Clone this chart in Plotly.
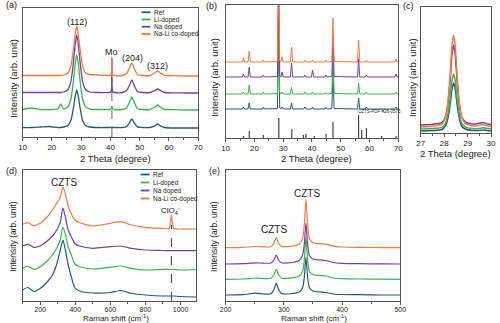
import plotly.graph_objects as go

W, H = 500, 323
names = ["Ref", "Li-doped", "Na doped", "Na-Li co-doped"]
colors = ["#26587a", "#3cb44a", "#7040a6", "#f4793e"]

# ---------------- (a) XRD films ----------------
a_x = [10, 13, 16, 19, 22, 23, 24, 25.5, 26.5, 27.3, 28.0, 28.5, 29.0, 29.7, 30.5, 31.5, 33, 36,
       39.5, 40.2, 40.5, 40.8, 41.5, 44, 45.5, 46.5, 47.3, 48.1, 49.2, 51, 53.5, 55, 56.1, 57.2, 58.5, 62, 66, 70]
a_ref = [9.5, 9.5, 10, 10.5, 9.5, 9.5, 10, 11.5, 16.5, 28, 41, 47, 41, 28, 16.5, 11.5, 10, 9.5,
         9.5, 9.5, 10, 9.5, 9.5, 9.5, 10.4, 14.4, 18, 14.4, 10.1, 9.5, 9.5, 10.8, 13, 10.8, 9.5, 9, 9, 9]
a_li = [27.5, 29, 27.5, 27.5, 28, 33, 28, 30.3, 38, 54.5, 73.8, 82, 73.8, 54.5, 38, 30.3, 27.8, 27.5,
        27.5, 28, 30.5, 28, 27.5, 27.5, 29, 35, 40, 35, 28.6, 27.5, 27.5, 29.5, 32, 29.5, 27.5, 27.3, 27, 27]
a_na = [44.5, 44.5, 44.5, 44.5, 44.5, 44.5, 45, 47.5, 55.6, 73, 93.3, 102, 93.3, 73, 55.6, 47.5, 45, 44.5,
        44.5, 45, 79, 45, 44.5, 44.5, 46.4, 51.8, 57, 51.8, 45.6, 44.5, 44.5, 46.3, 48, 46.3, 44.5, 44.2, 44, 44]
a_nali = [61.5, 61.5, 61.5, 61.5, 61.5, 61.5, 62, 64, 71, 86, 103.5, 111, 103.5, 86, 71, 64, 62.5, 62,
          61.5, 62, 79, 62, 61.5, 61.5, 63.4, 68.8, 74, 68.8, 62.6, 61.5, 61.5, 63.8, 66, 63.8, 61.5, 61.3, 61, 61]
a_peak_labels = ["(112)", "Mo", "(204)", "(312)"]
a_peak_x = [28.5, 40.5, 47.7, 56.0]
a_peak_y = [115, 85, 79, 71]
mo_pos = 40.5
mo_line_top = 60

# ---------------- (b) XRD powders ----------------
b_x = [10, 15.8, 16.2, 16.6, 17.8, 18.2, 18.6, 22.7, 23.1, 23.5, 28.0, 28.4, 28.8, 29.2, 29.6, 30.0,
       32.5, 32.9, 33.3, 37.1, 37.5, 37.9, 39.8, 40.2, 40.6, 44.5, 44.9, 45.3, 46.9, 47.3, 47.7,
       55.8, 56.2, 56.6, 58.5, 58.9, 59.3, 68.8, 69.2, 69.6, 70]
b_ref = [29, 29, 31, 29, 29, 35, 29, 29, 31, 29, 29.5, 99, 30, 29, 31, 29, 29, 35, 29, 29, 31, 29, 29, 31, 29,
         29, 30.5, 29, 29.5, 64, 29.5, 29, 40, 29, 29, 31, 29, 29, 31, 29, 29]
b_li = [44, 44, 46, 44, 44, 53, 44, 44, 46, 44, 44.5, 124, 45, 44, 46, 44, 44, 51, 44, 44, 46, 44, 44, 46, 44,
        44, 45.5, 44, 44.5, 82, 44.5, 44, 55, 44, 44, 46, 44, 44, 46, 44, 44]
b_na = [61, 61, 64, 61, 61, 71, 61, 61, 63, 61, 61.5, 161, 62, 61, 66, 61, 61, 75, 61, 61, 63, 61, 61, 68, 61,
        61, 63, 61, 61.5, 103, 61.5, 61, 79, 61, 61, 63, 61, 61, 64, 61, 61]
b_nali = [76, 76, 80, 76, 76, 87, 76, 76, 78, 76, 76.5, 186, 77, 76, 81, 76, 76, 91, 76, 76, 78, 76, 76, 78, 76,
          76, 78, 76, 76.5, 120, 76.5, 76, 98, 76, 76, 78, 76, 76, 79, 76, 76]
pdf_pos = [16.2, 18.2, 23.1, 28.5, 33.0, 37.0, 37.9, 40.8, 44.9, 47.3, 56.2, 57.3, 58.9, 64.2, 69.2]
pdf_h = [2, 7, 3, 20, 9, 3, 4, 2, 4, 16, 23, 8, 10, 2, 2]
pdf_label = "CZTS-PDF #26-0575"

# ---------------- (c) zoom of (112) ----------------
c_x = [27, 27.5, 27.9, 28.05, 28.15, 28.25, 28.33, 28.4, 28.47, 28.55, 28.65, 28.75, 28.9, 29.2, 29.45, 29.65, 29.85, 30]
c_ref = [2, 2.5, 3.5, 6.8, 14, 28.4, 44, 50, 44, 28.4, 14, 6.8, 4, 2.5, 2.5, 3, 2.5, 2]
c_li = [4, 4.5, 5.7, 9.5, 17.8, 34.3, 52.4, 59, 52.4, 34.3, 17.8, 9.5, 6.2, 4.5, 4.5, 5.2, 4.5, 4]
c_na = [8, 8.8, 10.4, 16, 28, 52, 78.4, 88, 78.4, 52, 28, 16, 11.2, 9, 9.5, 10.5, 9, 8.5]
c_nali = [6, 6.9, 8.8, 15.2, 29, 57, 87, 98, 87, 57, 29, 15.2, 9.7, 7, 7.5, 8.5, 7, 6.5]

# ---------------- (d) Raman wide ----------------
d_x = [100, 130, 165, 200, 240, 270, 295, 315, 330, 345, 360, 378, 398, 425, 500, 600, 660, 720, 800, 900,
       935, 948, 961, 1000, 1090]
d_ref = [11, 13.5, 9.5, 12.5, 19, 26, 37, 51, 61, 50, 36, 24, 13, 10, 8, 8.5, 10.5, 7.5, 6, 5, 5, 5, 5, 4.5, 4]
d_li = [32.7, 35, 31.7, 34.3, 40, 46, 53, 61, 74, 66, 54, 46, 37, 34.3, 32, 33.7, 35, 32.7, 31, 31.7,
        31.5, 31.5, 31.5, 31, 31.5]
d_na = [55, 56.7, 53.7, 55, 60, 65, 71, 79, 93, 83, 71, 64, 57.5, 55, 52.7, 54.3, 55, 52.7, 51, 50.5,
        50.3, 50.3, 50.3, 50.3, 50.3]
d_nali = [76.7, 78.3, 75.3, 77.7, 84, 91, 98, 104, 114, 106, 95, 87, 81, 78.3, 75, 77.7, 79.3, 76, 73.7, 72.7,
          72.5, 86, 72.5, 72, 72]
clo4_pos = 948
clo4_line_top = 76

# ---------------- (e) Raman zoom ----------------
e_x = [200, 230, 250, 265, 278, 283, 287, 291, 296, 315, 326, 332, 335, 338, 341, 344, 350, 360, 372, 385,
       400, 430, 470, 500]
e_ref = [6, 6.3, 7.8, 7, 7.2, 11.5, 18, 11.5, 7.5, 7.5, 9, 13, 23, 44, 23, 13, 10, 9, 8.5, 7, 6.5, 6.3, 6, 6]
e_li = [21.7, 22, 23, 22.5, 22.7, 26.2, 31.7, 26.2, 23, 23.2, 25, 29.5, 40, 63.7, 40, 29.5, 26.5, 25.5, 25,
        23, 22.4, 22, 21.8, 21.7]
e_na = [37, 37.3, 38.2, 37.8, 38, 41, 46, 41, 38.2, 38.5, 40.5, 45.5, 56, 78, 56, 45.5, 42, 41, 40.5, 38.5,
        37.7, 37.3, 37.1, 37]
e_nali = [53.3, 53.6, 54.5, 54.1, 54.3, 57.8, 63.3, 57.8, 54.6, 54.8, 56.8, 62.3, 75.3, 101.7, 75.3, 62.3,
          58.3, 57.3, 56.8, 54.8, 54, 53.6, 53.4, 53.3]


def px(xp):
    return xp / W


def py(yp):
    return 1 - yp / H


fig = go.Figure()

panels = [
    ("x", "y", a_x, [a_ref, a_li, a_na, a_nali], "spline", 1.3),
    ("x2", "y2", b_x, [b_ref, b_li, b_na, b_nali], "linear", 1.0),
    ("x3", "y3", c_x, [c_ref, c_li, c_na, c_nali], "spline", 1.5),
    ("x4", "y4", d_x, [d_ref, d_li, d_na, d_nali], "spline", 1.2),
    ("x5", "y5", e_x, [e_ref, e_li, e_na, e_nali], "spline", 1.2),
]
for xa, ya, xs, series, shape, lw in panels:
    for nm, col, ys in zip(names, colors, series):
        fig.add_trace(go.Scatter(x=xs, y=ys, mode="lines", name=nm, xaxis=xa, yaxis=ya,
                                 line=dict(color=col, width=lw, shape=shape, smoothing=0.6),
                                 showlegend=False, hoverinfo="skip"))

# PDF reference sticks in (b)
sx, sy = [], []
for p, h in zip(pdf_pos, pdf_h):
    sx += [p, p, None]
    sy += [0, h, None]
fig.add_trace(go.Scatter(x=sx, y=sy, mode="lines", xaxis="x2", yaxis="y2", showlegend=False,
                         line=dict(color="#222", width=1), hoverinfo="skip"))

FRAME = "#555"
TXT = "#222"
FONT = "Liberation Sans, Arial, sans-serif"


def xax(dom, rng, dtick, mdtick, size, anchor, t0):
    return dict(domain=dom, range=rng, dtick=dtick, tick0=t0, showline=True,
                linecolor=FRAME, linewidth=1, mirror=True, ticks="outside", ticklen=3, tickwidth=1,
                tickcolor=FRAME, tickfont=dict(size=size, color=TXT, family=FONT), showgrid=False,
                zeroline=False, anchor=anchor, ticklabelstandoff=-1,
                minor=dict(ticks="outside", ticklen=2, tickcolor=FRAME, dtick=mdtick, showgrid=False))


def yax(dom, rng, anchor):
    return dict(domain=dom, range=rng, showline=True, linecolor=FRAME, linewidth=1, mirror=True,
                ticks="", showticklabels=False, showgrid=False, zeroline=False, anchor=anchor)


fig.update_layout(
    width=W, height=H, margin=dict(l=0, r=0, t=0, b=0),
    paper_bgcolor="white", plot_bgcolor="white",
    font=dict(family=FONT, color=TXT),
    xaxis=xax([px(17), px(197)], [10, 70], 10, 5, 8, "y", 10),
    yaxis=yax([py(137), py(8)], [0, 129], "x"),
    xaxis2=xax([px(225), px(402)], [10, 70], 10, 5, 8, "y2", 10),
    yaxis2=yax([py(138), py(5)], [0, 133], "x2"),
    xaxis3=xax([px(425), px(497)], [27, 30], 1, 0.5, 8, "y3", 27),
    yaxis3=yax([py(133), py(7)], [0, 126], "x3"),
    xaxis4=xax([px(17), px(195)], [100, 1090], 200, 100, 7, "y4", 0),
    yaxis4=yax([py(301), py(170)], [0, 131], "x4"),
    xaxis5=xax([px(225), px(404)], [200, 500], 100, 50, 7, "y5", 200),
    yaxis5=yax([py(301), py(170)], [0, 131], "x5"),
)

ann = []


def paper_text(t, xp, yp, size, angle=0, xanchor="center"):
    ann.append(dict(text=t, x=px(xp), y=py(yp), xref="paper", yref="paper", showarrow=False,
                    font=dict(size=size, color=TXT, family=FONT), textangle=angle,
                    xanchor=xanchor, yanchor="middle"))


# panel labels
for t, xp, yp in [("(a)", 6, 5), ("(b)", 211, 6), ("(c)", 412, 6), ("(d)", 6, 171), ("(e)", 214, 171)]:
    paper_text(t, xp, yp, 9)

# axis titles
paper_text("2 Theta (degree)", 112, 158, 9.5)
paper_text("2 Theta (degree)", 318, 158, 9.5)
paper_text("2 Theta (degree)", 461, 153.5, 9.5)
paper_text("Raman shift (cm<sup>-1</sup>)", 113, 317.5, 8)
paper_text("Raman shift (cm<sup>-1</sup>)", 316, 317.5, 8)
paper_text("Intensity (arb. unit)", 7, 78, 9.5, -90)
paper_text("Intensity (arb. unit)", 214, 77, 9.5, -90)
paper_text("Intensity (arb. unit)", 416, 78, 9.5, -90)
paper_text("Intensity (arb. unit)", 7, 236, 8.5, -90)
paper_text("Intensity (arb. unit)", 213, 236, 8.5, -90)

# peak labels
for t, xv, yv in zip(a_peak_labels, a_peak_x, a_peak_y):
    ann.append(dict(text=t, x=xv, y=yv, xref="x", yref="y", showarrow=False,
                    font=dict(size=9, color=TXT, family=FONT)))
ann.append(dict(text=pdf_label, x=63.5, y=26, xref="x2", yref="y2", showarrow=False,
                font=dict(size=4.5, color=TXT, family=FONT)))
ann.append(dict(text="CZTS", x=335, y=119, xref="x4", yref="y4", showarrow=False,
                font=dict(size=10, color=TXT, family=FONT)))
ann.append(dict(text="ClO<sub>4</sub><sup>-</sup>", x=945, y=91, xref="x4", yref="y4", showarrow=False,
                font=dict(size=8, color=TXT, family=FONT)))
ann.append(dict(text="CZTS", x=283, y=72, xref="x5", yref="y5", showarrow=False,
                font=dict(size=10, color=TXT, family=FONT)))
ann.append(dict(text="CZTS", x=339.5, y=108, xref="x5", yref="y5", showarrow=False,
                font=dict(size=10, color=TXT, family=FONT)))

shapes = [
    dict(type="line", x0=mo_pos, x1=mo_pos, y0=0, y1=mo_line_top, xref="x", yref="y",
         line=dict(color="#666", width=1, dash="dash"), layer="below"),
    dict(type="line", x0=clo4_pos, x1=clo4_pos, y0=0, y1=clo4_line_top, xref="x4", yref="y4",
         line=dict(color="#333", width=1, dash="dash"), layer="below"),
]

# manual legends (a) and (d)
for ys_px, x0 in [([12.3, 19.5, 26.7, 34.0], 139), ([174.5, 182.5, 190.5, 198.5], 138)]:
    for nm, col, yp in zip(names, colors, ys_px):
        shapes.append(dict(type="line", x0=px(x0), x1=px(x0 + 9), y0=py(yp), y1=py(yp), xref="paper",
                           yref="paper", line=dict(color=col, width=1.8)))
        paper_text(nm, x0 + 11, yp, 6.5, xanchor="left")

fig.update_layout(annotations=ann, shapes=shapes)
fig.write_html("out.html")
